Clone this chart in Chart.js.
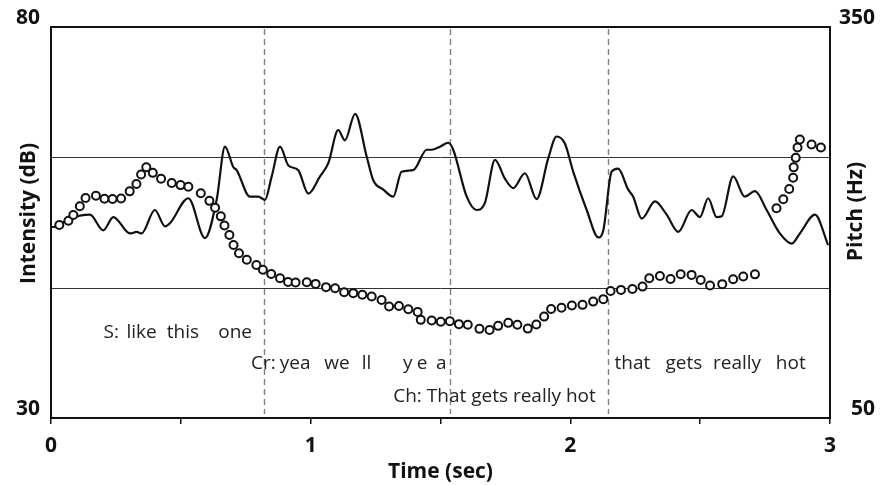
<!DOCTYPE html>
<html>
<head>
<meta charset="utf-8">
<script src="https://cdn.jsdelivr.net/npm/chart.js@4/dist/chart.umd.min.js"></script>
<style>
  html, body { margin: 0; padding: 0; background: #fff; }
  canvas { display: block; }
</style>
</head>
<body>
<canvas id="c" width="881" height="485"></canvas>
<script>
// ---- Data ----
const intensityTime = [0.004,0.022,0.073,0.150,0.201,0.240,0.304,0.330,0.349,0.400,0.439,0.458,0.529,0.593,0.638,0.670,0.702,0.715,0.766,0.798,0.824,0.850,0.882,0.914,0.952,0.991,1.036,1.068,1.106,1.132,1.171,1.216,1.241,1.280,1.318,1.350,1.395,1.447,1.466,1.498,1.530,1.549,1.601,1.639,1.671,1.710,1.748,1.780,1.825,1.870,1.915,1.947,1.979,2.011,2.063,2.108,2.127,2.159,2.184,2.223,2.242,2.275,2.326,2.371,2.416,2.467,2.499,2.531,2.563,2.583,2.627,2.672,2.711,2.756,2.807,2.852,2.884,2.942,2.993];
const intensityDb = [54.4,54.5,55.5,56.0,54.0,55.7,53.6,53.8,53.6,56.6,54.5,54.9,58.1,53.0,57.9,64.7,62.1,61.7,58.3,58.3,57.9,60.9,64.7,62.3,61.7,58.7,60.9,62.6,66.8,65.5,68.9,63.4,60.4,59.2,58.3,61.5,61.7,64.3,64.3,64.7,65.2,64.3,58.3,56.6,57.5,63.0,60.6,59.4,61.3,58.0,63.2,66.0,65.1,61.5,56.6,53.1,54.0,61.5,61.9,59.2,58.3,55.5,57.7,56.0,53.8,56.6,55.7,58.1,55.7,55.8,60.9,58.3,59.0,56.6,53.6,52.3,53.6,56.0,52.1];

const pitchTime = [0.032,0.067,0.086,0.111,0.133,0.173,0.206,0.237,0.270,0.303,0.329,0.347,0.367,0.392,0.424,0.465,0.499,0.529,0.577,0.610,0.632,0.654,0.668,0.687,0.703,0.724,0.754,0.791,0.816,0.848,0.882,0.913,0.942,0.985,1.019,1.059,1.094,1.129,1.164,1.199,1.235,1.273,1.302,1.340,1.376,1.412,1.424,1.466,1.501,1.536,1.571,1.605,1.650,1.689,1.722,1.761,1.796,1.836,1.869,1.899,1.926,1.966,2.006,2.047,2.088,2.127,2.155,2.195,2.239,2.278,2.304,2.345,2.386,2.425,2.467,2.502,2.538,2.585,2.627,2.666,2.711,2.794,2.820,2.843,2.858,2.860,2.868,2.875,2.884,2.929,2.965];
const pitchHz = [198.1,201.4,205.7,212.4,218.8,220.5,218.2,218.0,218.4,223.9,229.6,236.8,242.4,238.1,233.6,230.3,228.7,227.4,222.4,216.6,211.3,204.7,197.7,190.4,182.8,176.4,171.4,167.4,163.8,160.5,157.2,154.4,154.0,154.2,152.9,150.4,149.6,146.5,145.8,144.5,143.2,140.6,135.6,136.0,133.5,131.4,125.3,124.8,123.8,124.3,122.0,121.5,118.4,117.6,120.7,123.0,121.5,118.6,121.7,127.8,133.7,134.6,136.3,136.8,139.3,141.2,147.5,148.3,149.0,150.8,157.2,159.0,156.7,160.3,159.8,155.9,151.6,152.7,156.5,158.5,160.2,210.9,217.8,225.7,234.3,242.3,249.6,257.6,263.7,259.9,257.6];

// axis ranges / tick labels
const timeRange = [0, 3];
const intensityRange = [30, 80];
const pitchRange = [50, 350];
const pitchRefLines = [150, 250];
const turnBoundaries = [0.821, 1.538, 2.146];

// transcript annotations (word, time centre, dB baseline)
const rowS = ['S:', 'like', 'this', 'one'];
const rowSTime = [0.232, 0.349, 0.508, 0.709];
const rowCr = ['Cr:', 'yea', 'we', 'll', 'y', 'e', 'a'];
const rowCrTime = [0.818, 0.940, 1.101, 1.215, 1.374, 1.429, 1.503];
const rowChEarly = 'Ch: That gets really hot';
const rowChEarlyTime = 1.318;
const rowChLate = ['that', 'gets', 'really', 'hot'];
const rowChLateTime = [2.239, 2.437, 2.642, 2.849];
const rowLevelDb = [40.2, 36.25, 32.1];

const FONT = '"Open Sans", "Liberation Sans", sans-serif';

const overlay = {
  id: 'overlay',
  beforeDatasetsDraw(chart) {
    const { ctx, chartArea: a, scales } = chart;
    const x = scales.x, y = scales.y, y2 = scales.y2;
    ctx.save();
    // horizontal reference lines (pitch)
    ctx.strokeStyle = '#333';
    ctx.lineWidth = 1;
    pitchRefLines.forEach(v => {
      const py = Math.round(y2.getPixelForValue(v)) + 0.5;
      ctx.beginPath(); ctx.moveTo(a.left, py); ctx.lineTo(a.right, py); ctx.stroke();
    });
    // dashed turn boundaries
    ctx.strokeStyle = '#808080';
    ctx.lineWidth = 1.4;
    ctx.setLineDash([6, 4]);
    turnBoundaries.forEach(t => {
      const px = Math.round(x.getPixelForValue(t)) + 0.5;
      ctx.beginPath(); ctx.moveTo(px, a.top + 2); ctx.lineTo(px, a.bottom - 4); ctx.stroke();
    });
    ctx.setLineDash([]);
    // transcript text
    ctx.fillStyle = '#222';
    ctx.font = '19px ' + FONT;
    ctx.textBaseline = 'alphabetic';
    ctx.textAlign = 'center';
    const yS = y.getPixelForValue(rowLevelDb[0]);
    rowS.forEach((w, i) => ctx.fillText(w, x.getPixelForValue(rowSTime[i]), yS));
    const yCr = y.getPixelForValue(rowLevelDb[1]);
    rowCr.forEach((w, i) => ctx.fillText(w, x.getPixelForValue(rowCrTime[i]), yCr));
    rowChLate.forEach((w, i) => ctx.fillText(w, x.getPixelForValue(rowChLateTime[i]), yCr));
    ctx.textAlign = 'left';
    ctx.fillText(rowChEarly, x.getPixelForValue(rowChEarlyTime), y.getPixelForValue(rowLevelDb[2]));
    ctx.restore();
  },
  afterDraw(chart) {
    const { ctx, chartArea: a } = chart;
    ctx.save();
    ctx.strokeStyle = '#111';
    ctx.lineWidth = 2;
    ctx.strokeRect(a.left, a.top, a.right - a.left, a.bottom - a.top);
    // axis titles
    ctx.fillStyle = '#111';
    ctx.font = 'bold 21px ' + FONT;
    ctx.textAlign = 'center';
    ctx.textBaseline = 'alphabetic';
    ctx.save();
    ctx.translate(35, (a.top + a.bottom) / 2 - 9);
    ctx.rotate(-Math.PI / 2);
    ctx.fillText('Intensity (dB)', 0, 0);
    ctx.restore();
    ctx.save();
    ctx.translate(862, (a.top + a.bottom) / 2 - 11);
    ctx.rotate(-Math.PI / 2);
    ctx.fillText('Pitch (Hz)', 0, 0);
    ctx.restore();
    ctx.textBaseline = 'middle';
    ctx.fillText('Time (sec)', (a.left + a.right) / 2, 472);
    ctx.restore();
  }
};

new Chart(document.getElementById('c'), {
  data: {
    datasets: [
      {
        type: 'scatter',
        label: 'Pitch',
        data: pitchTime.map((t, i) => ({ x: t, y: pitchHz[i] })),
        yAxisID: 'y2',
        showLine: false,
        pointRadius: 4,
        pointBorderWidth: 2,
        borderColor: '#111',
        backgroundColor: '#fff',
        pointBackgroundColor: '#fff',
        order: 0
      },
      {
        type: 'line',
        label: 'Intensity',
        data: intensityTime.map((t, i) => ({ x: t, y: intensityDb[i] })),
        yAxisID: 'y',
        borderColor: '#111',
        borderWidth: 2.2,
        pointRadius: 0,
        cubicInterpolationMode: 'monotone',
        fill: false,
        order: 1
      }
    ]
  },
  options: {
    responsive: false,
    animation: false,
    devicePixelRatio: 1,
    layout: { padding: { top: 27, right: 6, left: 0, bottom: 0 } },
    plugins: { legend: { display: false }, tooltip: { enabled: false } },
    scales: {
      x: {
        type: 'linear',
        position: 'bottom',
        min: timeRange[0], max: timeRange[1],
        afterFit(s) { s.height = 67; },
        ticks: {
          stepSize: 0.5,
          autoSkip: false,
          maxRotation: 0,
          padding: 9,
          color: '#111',
          font: { family: FONT, size: 21, weight: 'bold' },
          callback: v => (Number.isInteger(v) ? String(v) : '')
        },
        grid: { drawOnChartArea: false, drawTicks: true, tickLength: 6, color: '#111', lineWidth: 1.5 },
        border: { display: false }
      },
      y: {
        type: 'linear',
        position: 'left',
        min: intensityRange[0], max: intensityRange[1],
        afterFit(s) { s.width = 51; },
        ticks: {
          stepSize: 50,
          padding: 11,
          labelOffset: -8.5,
          color: '#111',
          font: { family: FONT, size: 21, weight: 'bold' }
        },
        grid: { display: false, drawTicks: false },
        border: { display: false }
      },
      y2: {
        type: 'linear',
        position: 'right',
        min: pitchRange[0], max: pitchRange[1],
        afterFit(s) { s.width = 45; },
        ticks: {
          stepSize: 300,
          padding: 7,
          crossAlign: 'far',
          labelOffset: -8.5,
          color: '#111',
          font: { family: FONT, size: 21, weight: 'bold' }
        },
        grid: { display: false, drawTicks: false },
        border: { display: false }
      }
    }
  },
  plugins: [overlay]
});
</script>
</body>
</html>
